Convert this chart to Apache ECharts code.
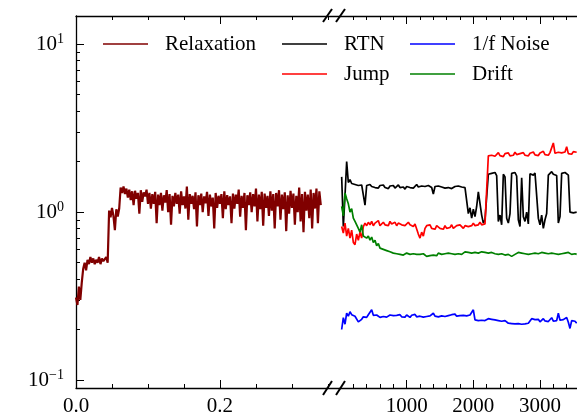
<!DOCTYPE html>
<html>
<head>
<meta charset="utf-8">
<script src="https://cdn.jsdelivr.net/npm/echarts@6/dist/echarts.min.js"></script>
<style>
  html, body { margin: 0; padding: 0; background: #fff; }
  #chart { width: 577px; height: 414px; }
</style>
</head>
<body>
<div id="chart"></div>
<script>
// ---- Early-time relaxation (time in arbitrary units, sampled every 0.002) ----
const relaxStart = 0;
const relaxStep = 0.002;
const relaxation = [
  0.31, 0.28, 0.36, 0.30, 0.38,
  0.46, 0.50, 0.45, 0.52, 0.49, 0.54, 0.50, 0.53, 0.49, 0.52, 0.50, 0.54, 0.49, 0.53, 0.51, 0.50, 0.54, 0.50,
  1.02, 0.93, 1.06, 0.95, 0.78, 1.04, 0.94, 1.05,
  1.40, 1.30, 1.42, 1.28, 1.38, 1.22, 1.36, 1.18, 1.33, 1.10, 1.34, 1.20, 1.30, 0.98, 1.35, 1.15, 1.31, 1.24, 1.36, 1.12,
  1.30, 1.05, 1.28, 1.12, 1.32, 0.86, 1.27, 1.10, 1.30, 1.02,
  1.26, 1.14, 1.35, 1.00, 1.28, 0.84, 1.25, 1.08, 1.30, 1.12,
  1.27, 0.98, 1.33, 1.10, 1.24, 1.05, 1.42, 0.90, 1.28, 1.12,
  1.25, 1.04, 1.31, 0.82, 1.26, 1.10, 1.29, 1.00, 1.24, 1.13,
  1.32, 0.95, 1.27, 1.08, 1.22, 0.80, 1.30, 1.06, 1.25, 1.12,
  1.28, 0.92, 1.33, 1.04, 1.26, 1.10, 1.24, 0.86, 1.29, 1.05,
  1.27, 1.12, 1.36, 0.94, 1.25, 1.06, 1.30, 0.78, 1.26, 1.10,
  1.31, 1.00, 1.28, 1.08, 1.38, 0.88, 1.27, 1.04, 1.32, 0.83,
  1.29, 1.06, 1.25, 0.95, 1.33, 1.02, 1.28, 0.80, 1.30, 1.08,
  1.35, 0.90, 1.27, 1.04, 1.31, 0.77, 1.26, 0.98, 1.34, 1.06,
  1.29, 0.84, 1.25, 1.00, 1.40, 0.88, 1.28, 0.76, 1.32, 1.02,
  1.27, 0.92, 1.36, 0.80, 1.30, 1.05, 1.38, 0.86, 1.33, 1.10
];

// ---- Long-time traces (sampled every 25 from t = 25) ----
const lateStart = 25;
const lateStep = 25;
const rtn = [
  1.62, 0.82, 1.25, 2.00, 1.50, 1.56, 1.48, 1.52, 1.46, 1.50,
  1.44, 1.48, 1.45, 1.42, 1.10, 1.44, 1.41, 1.46, 1.42, 1.44,
  1.40, 1.43, 1.39, 1.44, 1.41, 1.45, 1.40, 1.42, 1.38, 1.43,
  1.41, 1.44, 1.39, 1.42, 1.45, 1.40, 1.43, 1.41, 1.37, 1.42,
  1.44, 1.40, 1.43, 1.39, 1.42, 1.46, 1.41, 1.38, 1.43, 1.40,
  1.42, 1.39, 1.44, 1.41, 1.40, 1.28, 1.42, 1.39, 1.43, 1.40,
  1.41, 1.44, 1.39, 1.42, 1.40, 1.43, 1.38, 1.41, 1.42, 1.39,
  1.43, 1.40, 1.41, 1.42, 1.40, 1.41, 0.98, 1.06, 0.92, 1.04,
  0.94, 1.08, 1.32, 1.30, 0.96, 0.86, 0.90, 0.88, 1.68, 1.64,
  1.70, 1.66, 1.72, 1.65, 0.88, 0.96, 0.84, 1.68, 1.62, 0.92,
  0.86, 0.98, 1.70, 1.66, 1.72, 1.64, 0.90, 0.82, 1.60, 0.94,
  0.88, 1.00, 0.85, 1.69, 1.73, 1.66, 1.71, 1.67, 0.92, 0.84,
  0.96, 0.80, 0.90, 0.98, 1.66, 1.70, 1.74, 1.68, 1.72, 1.65,
  0.86, 0.94, 1.70, 1.67, 1.72, 1.69, 1.66, 1.00, 1.01, 0.99,
  1.00, 1.00
];
const jump = [
  0.82, 0.75, 0.86, 0.72, 0.80, 0.70, 0.78, 0.66, 0.64, 0.74,
  0.68, 0.76, 0.70, 0.82, 0.86, 0.83, 0.87, 0.84, 0.88, 0.83,
  0.86, 0.84, 0.89, 0.83, 0.85, 0.87, 0.84, 0.86, 0.83, 0.88,
  0.85, 0.84, 0.87, 0.83, 0.86, 0.88, 0.84, 0.86, 0.83, 0.85,
  0.87, 0.84, 0.86, 0.82, 0.85, 0.84, 0.74, 0.70, 0.76, 0.72,
  0.80, 0.83, 0.81, 0.84, 0.80, 0.82, 0.79, 0.83, 0.81, 0.80,
  0.82, 0.79, 0.83, 0.80, 0.82, 0.81, 0.84, 0.80, 0.82, 0.83,
  0.81, 0.84, 0.82, 0.80, 0.83, 0.85, 0.82, 0.84, 0.83, 0.86,
  0.83, 0.85, 0.84, 0.87, 0.84, 0.86, 0.85, 0.87, 2.16, 2.22,
  2.18, 2.24, 2.15, 2.20, 2.26, 2.17, 2.21, 2.14, 2.23, 2.19,
  2.25, 2.16, 2.22, 2.18, 2.27, 2.20, 2.15, 2.23, 2.19, 2.26,
  2.18, 2.22, 2.16, 2.24, 2.20, 2.28, 2.19, 2.23, 2.17, 2.25,
  2.21, 2.30, 2.20, 2.24, 2.18, 2.26, 2.22, 2.58, 2.24, 2.20,
  2.27, 2.21, 2.25, 2.19, 2.28, 2.45, 2.23, 2.26, 2.21, 2.29,
  2.24, 2.27
];
const oneOverF = [
  0.200, 0.235, 0.215, 0.250, 0.240, 0.255, 0.245, 0.250, 0.240, 0.235,
  0.222, 0.218, 0.230, 0.238, 0.242, 0.236, 0.245, 0.240, 0.262, 0.243,
  0.238, 0.244, 0.240, 0.236, 0.242, 0.239, 0.245, 0.237, 0.241, 0.244,
  0.238, 0.242, 0.236, 0.243, 0.240, 0.245, 0.238, 0.241, 0.237, 0.244,
  0.240, 0.236, 0.243, 0.239, 0.246, 0.238, 0.242, 0.240, 0.244, 0.237,
  0.243, 0.239, 0.245, 0.241, 0.238, 0.250, 0.240, 0.244, 0.238, 0.243,
  0.241, 0.246, 0.239, 0.244, 0.242, 0.238, 0.245, 0.241, 0.247, 0.240,
  0.244, 0.242, 0.248, 0.243, 0.246, 0.241, 0.247, 0.244, 0.250, 0.262,
  0.228, 0.230, 0.226, 0.229, 0.227, 0.231, 0.226, 0.229, 0.232, 0.227,
  0.230, 0.225, 0.228, 0.231, 0.226, 0.229, 0.224, 0.228, 0.226, 0.222,
  0.218, 0.215, 0.217, 0.213, 0.216, 0.214, 0.217, 0.212, 0.215, 0.213,
  0.216, 0.214, 0.218, 0.221, 0.232, 0.226, 0.229, 0.224, 0.230, 0.222,
  0.227, 0.232, 0.225, 0.229, 0.223, 0.228, 0.235, 0.224, 0.230, 0.226,
  0.250, 0.227, 0.222, 0.229, 0.224, 0.236, 0.221, 0.203, 0.226, 0.220,
  0.224, 0.218
];
const drift = [
  1.08, 0.95, 1.30, 1.20, 1.12, 1.00, 1.05, 0.92, 0.88, 0.90,
  0.80, 0.76, 0.84, 0.72, 0.74, 0.70, 0.72, 0.68, 0.71, 0.66,
  0.68, 0.63, 0.65, 0.61, 0.62, 0.60, 0.61, 0.59, 0.60, 0.58,
  0.585, 0.57, 0.575, 0.565, 0.57, 0.56, 0.565, 0.555, 0.56, 0.57,
  0.555, 0.56, 0.55, 0.565, 0.555, 0.56, 0.545, 0.56, 0.55, 0.565,
  0.555, 0.545, 0.56, 0.55, 0.565, 0.555, 0.56, 0.55, 0.57, 0.555,
  0.56, 0.55, 0.565, 0.555, 0.57, 0.56, 0.565, 0.575, 0.56, 0.57,
  0.565, 0.575, 0.56, 0.57, 0.58, 0.565, 0.575, 0.56, 0.57, 0.565,
  0.575, 0.56, 0.57, 0.565, 0.58, 0.57, 0.575, 0.56, 0.57, 0.565,
  0.575, 0.585, 0.565, 0.57, 0.56, 0.575, 0.565, 0.57, 0.555, 0.565,
  0.56, 0.55, 0.545, 0.555, 0.56, 0.565, 0.575, 0.56, 0.57, 0.58,
  0.565, 0.57, 0.56, 0.575, 0.565, 0.56, 0.57, 0.555, 0.565, 0.56,
  0.575, 0.565, 0.57, 0.58, 0.565, 0.56, 0.57, 0.555, 0.565, 0.575,
  0.56, 0.57, 0.565, 0.555, 0.57, 0.56, 0.575, 0.565, 0.56, 0.57,
  0.565, 0.56
];

// ---- Axis ticks ----
const leftMajor = [0, 0.2];
const leftMinor = [0.05, 0.1, 0.15, 0.25, 0.3, 0.35];
const rightMajor = [1000, 2000, 3000];
const rightMinor = [200, 400, 600, 800, 1200, 1400, 1600, 1800, 2200, 2400, 2600, 2800, 3200, 3400];
const yMajor = [0.1, 1, 10];
const yMinor = [0.2, 0.3, 0.4, 0.5, 0.6, 0.7, 0.8, 0.9, 2, 3, 4, 5, 6, 7, 8, 9];

const FONT = '"Liberation Serif", "Times New Roman", serif';
const Y_MIN = 0.0897, Y_MAX = 14.7;
const LEFT_MAX = 0.3667, RIGHT_MAX = 3555;

const series = (start, step, vals) => vals.map((v, i) => [start + i * step, v]);

function xAxis(gridIndex, position, max, ticks, len, showLine, labels, fmt) {
  return {
    type: 'value', gridIndex, position, min: 0, max,
    axisLine: { show: showLine, onZero: false, lineStyle: { color: '#000', width: 1.3 } },
    axisTick: { show: true, inside: true, length: len, customValues: ticks, lineStyle: { color: '#000', width: 1 } },
    axisLabel: labels
      ? { show: true, customValues: labels, formatter: fmt, margin: 8, color: '#000', fontFamily: FONT, fontSize: 21 }
      : { show: false },
    splitLine: { show: false }
  };
}

function legendItem(name, left, top) {
  return {
    data: [name], left, top, padding: 0, icon: 'rect', itemWidth: 45, itemHeight: 1.5,
    selectedMode: false,
    textStyle: { fontFamily: FONT, fontSize: 21, color: '#000', lineHeight: 24, padding: [0, 0, 0, 12] }
  };
}

const leftFmt = v => v.toFixed(1);
const rightFmt = v => String(v);
const supFmt = v => {
  const e = Math.round(Math.log10(v));
  return '{b|10}{s|' + (e < 0 ? '\u2212' + (-e) : String(e)) + '}';
};

const lineOpts = (name, color, width, xi, yi, data) => ({
  name, type: 'line', xAxisIndex: xi, yAxisIndex: yi, data,
  symbol: 'none', lineStyle: { color, width }, itemStyle: { color }, z: 3
});

const chart = echarts.init(document.getElementById('chart'), null, { renderer: 'canvas' });
chart.setOption({
  animation: false,
  backgroundColor: '#fff',
  grid: [
    { left: 76, top: 16, width: 264, bottom: 26, outerBoundsMode: 'none' },
    { left: 340, top: 16, right: 0, bottom: 26, outerBoundsMode: 'none' }
  ],
  xAxis: [
    xAxis(0, 'bottom', LEFT_MAX, leftMajor, 8, true, leftMajor, leftFmt),
    xAxis(0, 'bottom', LEFT_MAX, leftMinor, 4, false),
    xAxis(0, 'top', LEFT_MAX, leftMajor, 8, true),
    xAxis(0, 'top', LEFT_MAX, leftMinor, 4, false),
    xAxis(1, 'bottom', RIGHT_MAX, rightMajor, 8, true, rightMajor, rightFmt),
    xAxis(1, 'bottom', RIGHT_MAX, rightMinor, 4, false),
    xAxis(1, 'top', RIGHT_MAX, rightMajor, 8, true),
    xAxis(1, 'top', RIGHT_MAX, rightMinor, 4, false)
  ],
  yAxis: [
    {
      type: 'log', logBase: 10, gridIndex: 0, position: 'left', min: Y_MIN, max: Y_MAX,
      axisLine: { show: true, onZero: false, lineStyle: { color: '#000', width: 1.3 } },
      axisTick: { show: true, inside: true, length: 8, customValues: yMajor, lineStyle: { color: '#000', width: 1 } },
      axisLabel: {
        show: true, customValues: yMajor, formatter: supFmt, margin: 12,
        rich: {
          b: { fontFamily: FONT, fontSize: 21, color: '#000', lineHeight: 24 },
          s: { fontFamily: FONT, fontSize: 14, color: '#000', lineHeight: 14, verticalAlign: 'top' }
        }
      },
      splitLine: { show: false }
    },
    {
      type: 'log', logBase: 10, gridIndex: 0, position: 'left', min: Y_MIN, max: Y_MAX,
      axisLine: { show: false },
      axisTick: { show: true, inside: true, length: 4, customValues: yMinor, lineStyle: { color: '#000', width: 1 } },
      axisLabel: { show: false },
      splitLine: { show: false }
    },
    {
      type: 'log', logBase: 10, gridIndex: 1, min: Y_MIN, max: Y_MAX, show: false,
      splitLine: { show: false }
    }
  ],
  legend: [
    legendItem('Relaxation', 103, 32),
    legendItem('RTN', 282, 32),
    legendItem('1/f Noise', 410, 32),
    legendItem('Jump', 282, 62),
    legendItem('Drift', 410, 62)
  ],
  series: [
    lineOpts('Relaxation', '#800000', 2.2, 0, 0, series(relaxStart, relaxStep, relaxation)),
    lineOpts('RTN', '#000000', 1.7, 4, 2, series(lateStart, lateStep, rtn)),
    lineOpts('Jump', '#ff0000', 1.7, 4, 2, series(lateStart, lateStep, jump)),
    lineOpts('1/f Noise', '#0000ff', 1.7, 4, 2, series(lateStart, lateStep, oneOverF)),
    lineOpts('Drift', '#008000', 1.7, 4, 2, series(lateStart, lateStep, drift))
  ],
  graphic: [
    // axis-break marks on the bottom and top spines
    { type: 'line', shape: { x1: 323, y1: 395, x2: 332, y2: 381 }, style: { stroke: '#000', lineWidth: 2 }, z: 100 },
    { type: 'line', shape: { x1: 336, y1: 395, x2: 345, y2: 381 }, style: { stroke: '#000', lineWidth: 2 }, z: 100 },
    { type: 'line', shape: { x1: 323, y1: 22, x2: 332, y2: 9 }, style: { stroke: '#000', lineWidth: 2 }, z: 100 },
    { type: 'line', shape: { x1: 336, y1: 22, x2: 345, y2: 9 }, style: { stroke: '#000', lineWidth: 2 }, z: 100 }
  ]
});
</script>
</body>
</html>
